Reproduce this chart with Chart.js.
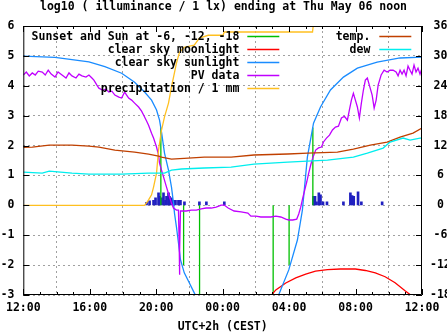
<!DOCTYPE html>
<html>
<head>
<meta charset="utf-8">
<script src="https://cdn.jsdelivr.net/npm/chart.js@4/dist/chart.umd.min.js"></script>
<style>
  body { margin: 0; background: #fff; }
  .chart-container { position: relative; width: 447px; height: 335px; }
</style>
</head>
<body>
<div class="chart-container"><canvas id="chart"></canvas></div>
<script>
// x = hours after 12:00 (Wed noon -> Thu noon), left axis log10 lux, right axis deg C
const xTickLabels = ["12:00", "16:00", "20:00", "00:00", "04:00", "08:00", "12:00"];

// sunset / sun at -6, -12, -18 markers (drawn from 0 to level)
const sunHours = [8.28, 9.65, 10.61, 15.04, 16.0, 17.43];
const sunLevels = [2.6, -2, -4, -4, -2, 2.6];

const moonHours = [14.90, 15.20, 15.80, 16.40, 17.00, 17.59, 18.31, 19.09, 19.99, 20.59, 21.19, 21.78, 22.38, 22.98, 23.46];
const moonValues = [-3.03, -2.83, -2.60, -2.43, -2.30, -2.20, -2.15, -2.13, -2.13, -2.18, -2.26, -2.39, -2.59, -2.86, -3.06];

const sunlightHours = [0, 1.91, 3.95, 4.91, 5.92, 6.70, 7.30, 7.72, 8.02, 8.20, 8.32, 8.50, 8.74, 8.92, 9.04, 9.10, 9.22, 9.34, 9.46, 9.69,
  9.99, 10.29, 10.41, 12.8, 15.32, 15.98, 16.50, 16.80, 17.10, 17.47, 17.89, 18.49, 19.27, 20.11, 21.30, 22.68, 24];
const sunlightValues = [4.99, 4.95, 4.80, 4.64, 4.42, 4.12, 3.79, 3.52, 3.19, 2.85, 2.45, 1.75, 1.18, 0.61, 0.08, -0.26, -0.73, -1.26, -1.82, -2.26,
  -2.59, -2.93, -3.06, null, -3.07, -2.16, -1.16, -0.16, 1.61, 2.75, 3.29, 3.86, 4.29, 4.59, 4.79, 4.93, 4.96];

const pvHours = [0, 0.18, 0.36, 0.54, 0.72, 0.90, 1.14, 1.32, 1.50, 1.68,
  1.91, 2.09, 2.33, 2.57, 2.75, 2.93, 3.17, 3.35, 3.53, 3.77,
  3.95, 4.13, 4.25, 4.43, 4.55, 4.79, 4.97, 5.15, 5.33, 5.51,
  5.75, 5.92, 6.10, 6.22, 6.34, 6.52, 6.70, 6.94, 7.12, 7.24,
  7.42, 7.54, 7.72, 7.84, 8.02, 8.14, 8.20, 8.32, 8.44, 8.62,
  8.80, 8.92, 9.04, 9.22, 9.34, 9.38, 9.40, 9.42, 9.46, 9.58,
  9.81, 10.11, 10.41, 10.71, 11.01, 11.31, 11.61, 11.91, 12.09, 12.33,
  12.69, 13.11, 13.52, 13.70, 14.00, 14.30, 14.60, 14.90, 15.20, 15.50,
  15.80, 15.98, 16.22, 16.46, 16.58, 16.70, 16.82, 16.94, 17.06, 17.18,
  17.30, 17.42, 17.60, 17.77, 17.95, 18.07, 18.25, 18.43, 18.61, 18.79,
  18.97, 19.15, 19.33, 19.51, 19.63, 19.75, 19.87, 19.99, 20.11, 20.23,
  20.35, 20.47, 20.59, 20.71, 20.83, 21.00, 21.12, 21.24, 21.36, 21.54,
  21.72, 21.90, 22.08, 22.26, 22.44, 22.56, 22.68, 22.80, 22.92, 23.04,
  23.16, 23.28, 23.40, 23.52, 23.64, 23.76, 23.88, 24.00];
const pvValues = [4.36, 4.46, 4.33, 4.43, 4.36, 4.49, 4.46, 4.36, 4.52, 4.39,
  4.29, 4.46, 4.36, 4.26, 4.43, 4.33, 4.26, 4.39, 4.33, 4.29,
  4.36, 4.26, 4.19, 4.02, 3.92, 3.85, 3.89, 3.79, 3.82, 3.69,
  3.62, 3.59, 3.79, 3.69, 3.59, 3.52, 3.42, 3.29, 3.15, 3.02,
  2.82, 2.68, 2.41, 2.25, 1.95, 1.68, 1.41, 1.18, 0.95, 0.61,
  0.28, 0.08, -0.09, -0.16, -0.16, -1.2, -2.32, -1.5, -0.19, -0.19,
  -0.19, -0.16, -0.16, -0.12, -0.09, -0.09, -0.06, 0.01, 0.01, -0.09,
  -0.19, -0.22, -0.26, -0.36, -0.36, -0.39, -0.39, -0.39, -0.36, -0.39,
  -0.46, -0.49, -0.49, -0.46, -0.29, -0.06, 0.24, 0.51, 0.78, 1.08,
  1.35, 1.58, 1.85, 1.92, 1.95, 2.12, 2.25, 2.35, 2.52, 2.62,
  2.65, 2.92, 2.98, 2.85, 3.19, 3.52, 3.75, 3.52, 3.29, 2.92,
  3.42, 3.85, 4.19, 4.26, 4.02, 3.69, 3.25, 3.52, 4.02, 4.36,
  4.52, 4.46, 4.52, 4.52, 4.46, 4.33, 4.52, 4.39, 4.52, 4.33,
  4.66, 4.52, 4.39, 4.69, 4.46, 4.59, 4.39, 4.59];

// cumulative precipitation in mm
const precipHours = [0, 7.30, 7.42, 7.54, 7.72, 7.84, 8.02, 8.14, 8.32, 8.50, 8.74, 8.92, 9.22, 9.40, 9.69, 10.29, 10.59, 11.13, 12.03, 12.09, 17.41, 17.47, 24];
const precipValues = [0, 0, 0.08, 0.18, 0.35, 0.61, 1.08, 1.85, 2.52, 2.96, 3.42, 3.96, 4.76, 5.12, 5.29, 5.36, 5.59, 5.69, 5.69, 5.80, 5.80, 6.1, 8.6];

// rain per interval (bars)
const rainHours = [7.42, 7.60, 7.84, 7.96, 8.14, 8.20, 8.32, 8.44, 8.56, 8.62, 8.74, 8.80, 8.92, 9.04, 9.16, 9.34, 9.46, 9.70,
  10.60, 11.02, 12.10, 17.47, 17.56, 17.65, 17.79, 17.89, 18.04, 18.28, 19.27, 19.69, 19.79, 19.89, 20.15, 20.35, 21.60];
const rainValues = [0.1, 0.15, 0.17, 0.25, 0.42, 0.3, 0.25, 0.42, 0.17, 0.3, 0.42, 0.3, 0.25, 0.17, 0.17, 0.17, 0.17, 0.12,
  0.12, 0.12, 0.12, 0.3, 0.3, 0.12, 0.42, 0.35, 0.12, 0.12, 0.12, 0.42, 0.33, 0.3, 0.45, 0.12, 0.12];

const tempHours = [0, 0.54, 1.56, 2.93, 3.95, 4.55, 5.51, 6.70, 7.54, 8.14, 8.32, 8.92, 9.93, 10.89, 12.51, 13.88, 15.92, 17.12, 18.91, 19.87, 20.89, 21.90, 22.68, 23.46, 24];
const tempValues = [11.64, 11.70, 12.10, 12.10, 11.90, 11.70, 11.10, 10.70, 10.30, 9.90, 9.69, 9.29, 9.49, 9.69, 9.69, 10.10, 10.30, 10.50, 10.70, 11.30, 12.10, 12.70, 13.70, 14.50, 15.50];

const dewHours = [0, 1.14, 1.56, 2.93, 3.95, 5.92, 7.54, 8.50, 8.92, 9.52, 10.89, 12.51, 13.88, 15.92, 18.31, 19.87, 20.71, 21.66, 22.08, 22.86, 23.28, 23.88, 24];
const dewValues = [6.68, 6.48, 6.88, 6.48, 6.28, 6.28, 6.48, 6.48, 7.08, 7.29, 7.49, 7.69, 8.29, 8.69, 9.09, 9.69, 10.50, 11.50, 12.70, 13.51, 13.10, 13.51, 13.50];

const pts = (xs, ys) => xs.map((x, i) => ({ x: x, y: ys[i] }));

const sunPts = [];
sunHours.forEach((h, i) => {
  sunPts.push({ x: h, y: 0 }, { x: h, y: sunLevels[i] }, { x: h, y: null });
});

const monoFont = { family: "'DejaVu Sans Mono'", size: 11.5, weight: "bold" };

const line = (label, data, color, axis, key, order) => ({
  type: "line", label: label, data: data,
  borderColor: color, backgroundColor: color,
  borderWidth: 1.3, pointRadius: 0, tension: 0, fill: false, spanGaps: false,
  yAxisID: axis, key: key, order: order
});

// gnuplot style border with inward ticks
const framePlugin = {
  id: "frame",
  afterDatasetsDraw(chart) {
    const { ctx, chartArea: a, scales } = chart;
    ctx.save();
    ctx.strokeStyle = "#000";
    ctx.lineWidth = 1;
    ctx.beginPath();
    ctx.rect(a.left + 0.5, a.top + 0.5, a.right - a.left - 1, a.bottom - a.top - 1);
    for (let h = 0; h <= 24; h++) {
      const x = Math.round(scales.x.getPixelForValue(h)) + 0.5;
      const len = h % 4 === 0 ? 6 : 3;
      ctx.moveTo(x, a.bottom); ctx.lineTo(x, a.bottom - len);
      ctx.moveTo(x, a.top); ctx.lineTo(x, a.top + len);
    }
    for (let v = -3; v <= 6; v++) {
      const y = Math.round(scales.y.getPixelForValue(v)) + 0.5;
      ctx.moveTo(a.left, y); ctx.lineTo(a.left + 6, y);
      ctx.moveTo(a.right, y); ctx.lineTo(a.right - 6, y);
    }
    ctx.stroke();
    ctx.restore();
  }
};

// key inside the plot, text right-aligned then a line sample
const keyPlugin = {
  id: "key",
  afterDraw(chart) {
    const { ctx, chartArea: a } = chart;
    ctx.save();
    ctx.font = "bold 11.5px 'DejaVu Sans Mono'";
    ctx.textAlign = "right";
    ctx.textBaseline = "middle";
    ctx.fillStyle = "#000";
    chart.data.datasets.forEach(ds => {
      if (!ds.key) return;
      const col = ds.key[0], row = ds.key[1];
      const y = a.top + 10 + row * 13;
      const tx = a.left + (col ? 347 : 216);
      const sx = a.left + (col ? 356 : 224);
      ctx.fillText(ds.label, tx, y + 1);
      ctx.strokeStyle = ds.borderColor;
      ctx.lineWidth = 1.3;
      ctx.beginPath();
      ctx.moveTo(sx, Math.round(y) + 0.5);
      ctx.lineTo(sx + 32, Math.round(y) + 0.5);
      ctx.stroke();
    });
    ctx.restore();
  }
};

new Chart("chart", {
  type: "line",
  data: {
    datasets: [
      {
        type: "bar", label: "rain", data: pts(rainHours, rainValues),
        backgroundColor: "#2020c0", borderWidth: 0, barThickness: 2,
        yAxisID: "y", order: 20
      },
      line("Sunset and Sun at -6, -12, -18", sunPts, "#00c000", "y", [0, 0], 19),
      line("clear sky moonlight", pts(moonHours, moonValues), "#ff0000", "y", [0, 1], 18),
      line("clear sky sunlight", pts(sunlightHours, sunlightValues), "#1a8cff", "y", [0, 2], 17),
      line("PV data", pts(pvHours, pvValues), "#c000ff", "y", [0, 3], 16),
      line("precipitation / 1 mm", pts(precipHours, precipValues), "#ffc020", "y", [0, 4], 15),
      line("temp.", pts(tempHours, tempValues), "#c04000", "y2", [1, 0], 14),
      line("dew", pts(dewHours, dewValues), "#00eeee", "y2", [1, 1], 13)
    ]
  },
  options: {
    responsive: true,
    maintainAspectRatio: false,
    animation: false,
    layout: { padding: 0 },
    plugins: {
      legend: { display: false },
      tooltip: { enabled: false },
      title: {
        display: true,
        text: "log10 ( illuminance / 1 lx) ending at Thu May 06 noon",
        color: "#000",
        font: monoFont,
        padding: { top: 0, bottom: 12.2 }
      }
    },
    scales: {
      x: {
        type: "linear", min: 0, max: 24, offset: false,
        afterFit: s => { s.height = 40; },
        ticks: {
          stepSize: 4, autoSkip: false, maxRotation: 0, padding: 6,
          color: "#000", font: monoFont,
          callback: v => xTickLabels[v / 4]
        },
        grid: { color: "#a0a0a0", drawTicks: false },
        border: { display: false, dash: [2, 3] },
        title: { display: true, text: "UTC+2h (CEST)", color: "#000", font: monoFont, padding: { top: 0, bottom: 1 } }
      },
      y: {
        position: "left", min: -3, max: 6,
        afterFit: s => { s.width = 21; },
        ticks: { stepSize: 1, padding: 9, color: "#000", font: monoFont },
        grid: { color: "#a0a0a0", drawTicks: false },
        border: { display: false, dash: [2, 3] }
      },
      y2: {
        position: "right", min: -18, max: 36,
        afterFit: s => { s.width = 25; },
        ticks: { stepSize: 6, padding: 8, crossAlign: "center", color: "#000", font: monoFont },
        grid: { display: false, drawTicks: false },
        border: { display: false }
      }
    }
  },
  plugins: [framePlugin, keyPlugin]
});
</script>
</body>
</html>
